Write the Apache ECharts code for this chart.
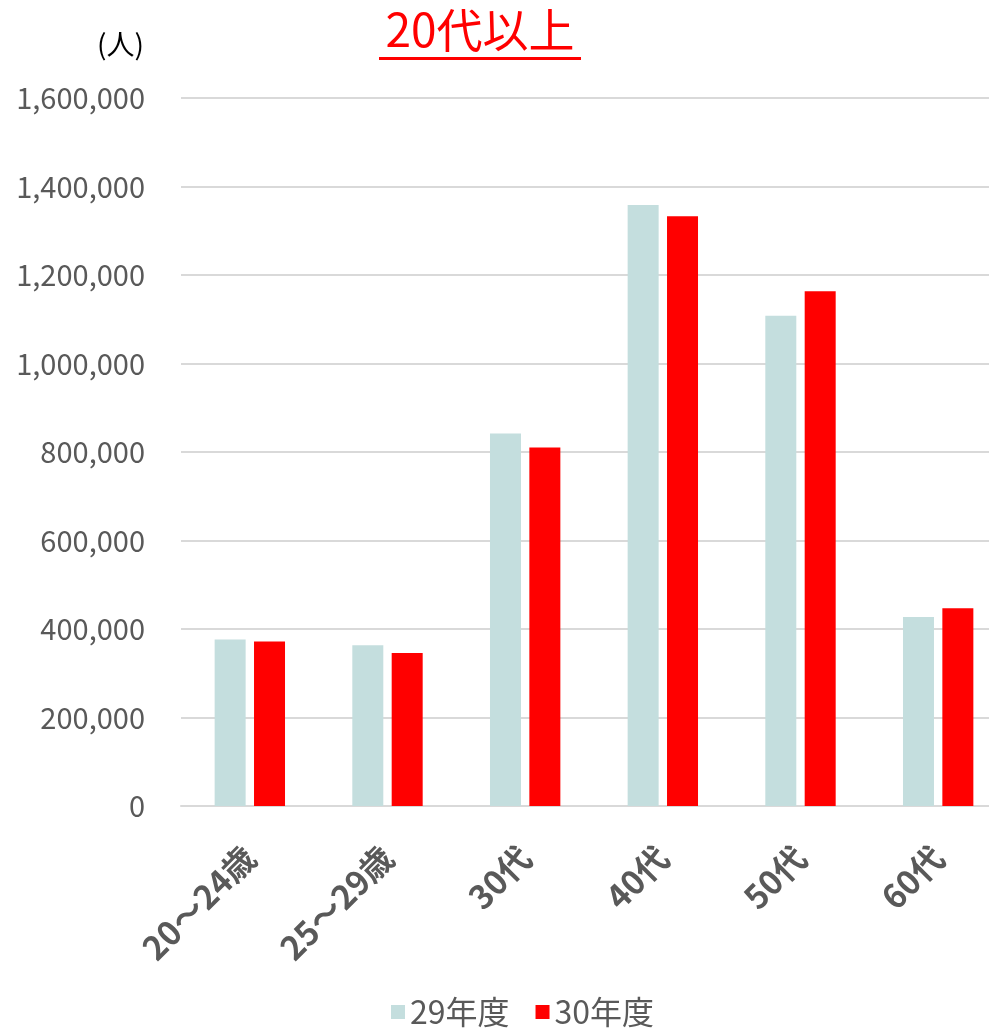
<!DOCTYPE html>
<html><head><meta charset="utf-8">
<script src="https://cdn.jsdelivr.net/npm/echarts@6/dist/echarts.min.js"></script>
<style>html,body{margin:0;padding:0;background:#fff}#c{width:989px;height:1030px}</style>
</head><body><div id="c"></div>
<script>
const categories = ['20～24歳','25～29歳','30代','40代','50代','60代'];
const seriesNames = ['29年度','30年度'];
const values29 = [376000, 363000, 842000, 1358000, 1108000, 427000];
const values30 = [372000, 346000, 810000, 1333000, 1163000, 447000];
const yTicks = {min: 0, max: 1600000, interval: 200000};
const titleText = '20代以上';
const unitText = '(人)';

const FONT = '"Noto Sans CJK JP", "Noto Sans", sans-serif';
const chart = echarts.init(document.getElementById('c'));
chart.setOption({
  animation: false,
  textStyle: {fontFamily: FONT},
  title: {text: titleText, left: 475, top: 2, textAlign: 'center',
    textStyle: {color: '#FF0000', fontSize: 46, fontWeight: 'normal', fontFamily: FONT}},
  graphic: [
    {type: 'rect', left: 379, top: 57, shape: {width: 202, height: 3}, style: {fill: '#FF0000'}},
    {type: 'text', left: 97, top: 30, style: {text: unitText, fontSize: 28, fill: '#000', fontFamily: FONT}}
  ],
  legend: {bottom: -3, left: 386, itemWidth: 14, itemHeight: 14, itemGap: 26,
    icon: 'rect', textStyle: {fontSize: 32, color: '#595959', fontFamily: FONT},
    data: seriesNames},
  grid: {left: 181, right: -18, top: 98, bottom: 224, containLabel: false, outerBoundsMode: 'none'},
  xAxis: {type: 'category', data: categories,
    axisLine: {lineStyle: {color: '#D9D9D9', width: 2}},
    axisTick: {show: false},
    axisLabel: {rotate: 45, fontSize: 33, fontWeight: 'bold', color: '#595959', margin: 46, interval: 0, fontFamily: FONT}},
  yAxis: {type: 'value', min: yTicks.min, max: yTicks.max, interval: yTicks.interval,
    axisLine: {show: false}, axisTick: {show: false},
    splitLine: {lineStyle: {color: '#D9D9D9', width: 2}},
    axisLabel: {fontSize: 29, color: '#595959', margin: 36, fontFamily: FONT,
      formatter: v => v.toLocaleString('en-US')}},
  series: [
    {name: seriesNames[0], type: 'bar', data: values29, barWidth: 31, barGap: '27%',
      itemStyle: {color: '#C4DEDE'}},
    {name: seriesNames[1], type: 'bar', data: values30, barWidth: 31,
      itemStyle: {color: '#FF0000'}}
  ]
});
</script></body></html>
